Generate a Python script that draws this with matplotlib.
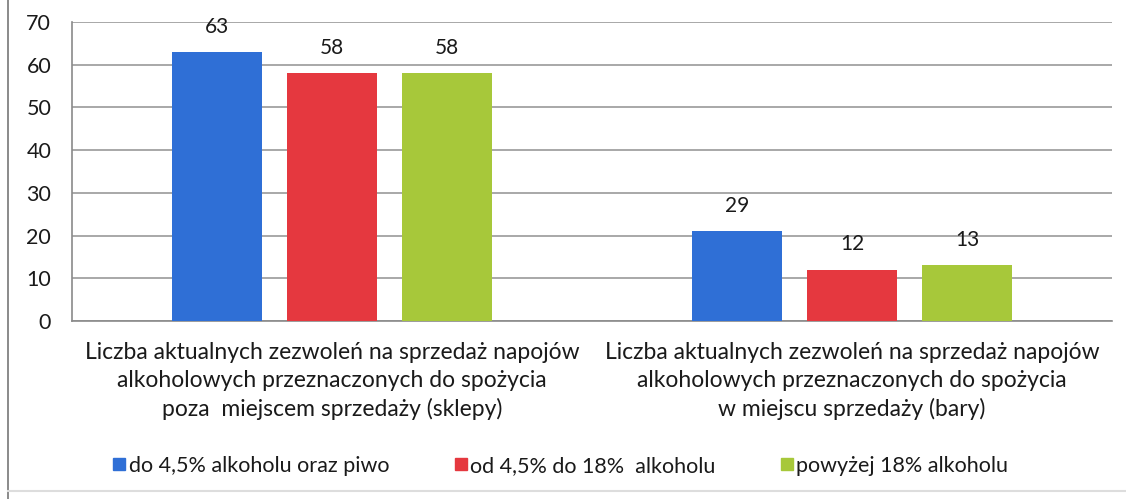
import numpy as np
import matplotlib.pyplot as plt
from matplotlib.lines import Line2D

categories = ["Liczba aktualnych zezwoleń na sprzedaż napojów\nalkoholowych przeznaczonych do spożycia\npoza  miejscem sprzedaży (sklepy)",
              "Liczba aktualnych zezwoleń na sprzedaż napojów\nalkoholowych przeznaczonych do spożycia\nw miejscu sprzedaży (bary)"]
series = ["do 4,5% alkoholu oraz piwo", "od 4,5% do 18%  alkoholu", "powyżej 18% alkoholu"]
# bar heights as drawn, and the value labels printed above them
heights = [[63, 21], [58, 12], [58, 13]]
labels = [[63, 29], [58, 12], [58, 13]]
colors = ["#2f6fd6", "#e5383f", "#a7c83a"]

plt.rcParams['font.family'] = ['Lato', 'DejaVu Sans']

fig = plt.figure(figsize=(11.26, 4.99), dpi=100)
ax = fig.add_axes([72/1126, 1-321/499, 1040/1126, 299/499])

x = np.arange(len(categories))
w = 0.173
step = 0.221
for i, s in enumerate(series):
    bars = ax.bar(x + (i-1)*step, heights[i], w, color=colors[i], label=s, zorder=3)
    for b, lab in zip(bars, labels[i]):
        ax.annotate(str(lab), (b.get_x() + b.get_width()/2, b.get_height()),
                    xytext=(0, 11), textcoords='offset points', ha='center',
                    va='bottom', fontsize=15, color='#1a1a1a', zorder=4)

ax.set_xlim(-0.5, 1.5)
ax.set_ylim(0, 70)
ax.set_yticks(range(0, 71, 10))
ax.tick_params(axis='y', labelsize=15.5, length=0, pad=15, labelcolor='#1a1a1a')
ax.set_xticks(x)
ax.set_xticklabels(categories, fontsize=16.5, linespacing=1.4, color='#1a1a1a')
ax.tick_params(axis='x', length=0, pad=15)
ax.grid(axis='y', color='#9a9a9a', linewidth=1.2, zorder=0)
for sp in ['top', 'right']:
    ax.spines[sp].set_visible(False)
for sp in ['left', 'bottom']:
    ax.spines[sp].set_color('#8a8a8a')
    ax.spines[sp].set_linewidth(1.2)

handles = [Line2D([], [], marker='s', linestyle='none', markersize=8,
                  markerfacecolor=c, markeredgecolor=c) for c in colors]
fig.legend(handles, series, loc='center', bbox_to_anchor=(0.498, 1-466/499),
           ncol=3, frameon=False, fontsize=15.5, handlelength=0.6,
           handletextpad=0.15, columnspacing=3.0, labelcolor='#1a1a1a')

# scanned page frame
fig.add_artist(Line2D([8/1126, 8/1126], [0, 1], color='#777777', lw=1.2))
fig.add_artist(Line2D([8/1126, 1], [1-491/499, 1-491/499], color='#dddddd', lw=1.5))

fig.savefig('out.png', dpi=100, facecolor='white')
